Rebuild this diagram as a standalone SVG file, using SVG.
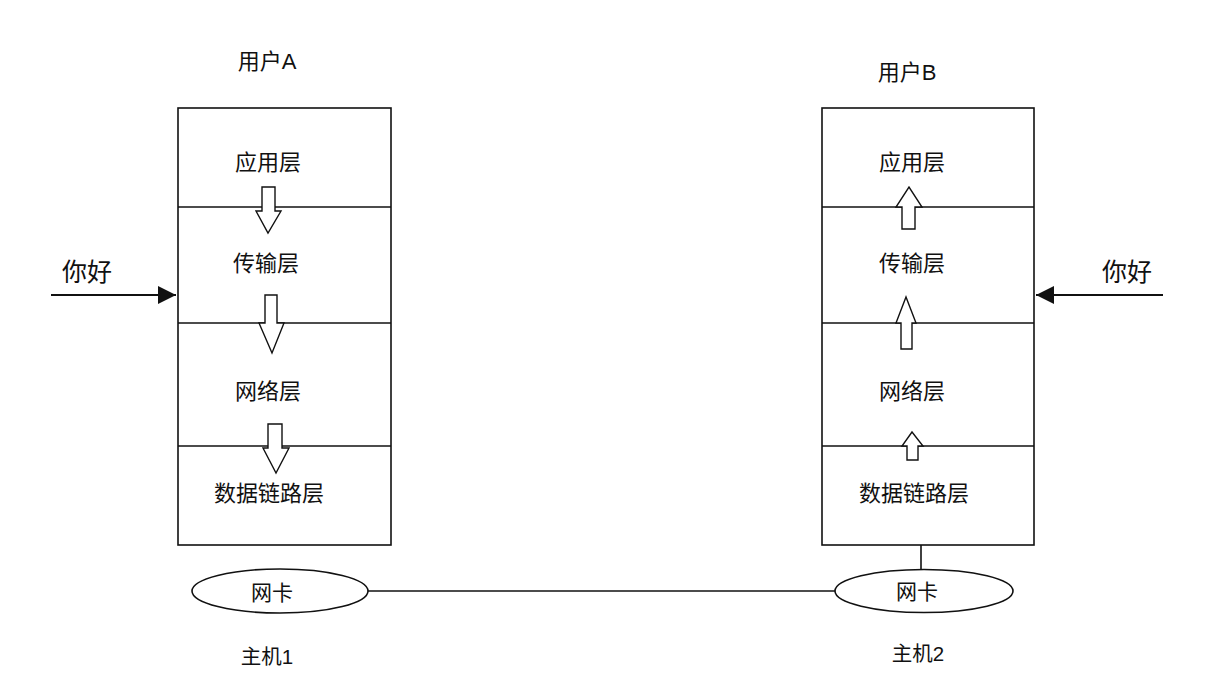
<svg xmlns="http://www.w3.org/2000/svg" width="1217" height="693" viewBox="0 0 1217 693">
<defs>
<style>
.t{font-family:"Liberation Sans","Noto Sans CJK SC",sans-serif;fill:#111;text-anchor:middle;dominant-baseline:central}
.box{fill:#fff;stroke:#111;stroke-width:1.6}
.ln{stroke:#111;stroke-width:1.6;fill:none}
.in{stroke:#111;stroke-width:2;fill:none}
.ar{fill:#fff;stroke:#111;stroke-width:1.4;stroke-linejoin:miter}
</style>
<marker id="ah" viewBox="0 0 10 10" refX="10" refY="5" markerWidth="22" markerHeight="18" markerUnits="userSpaceOnUse" orient="auto">
<path d="M0,0 L10,5 L0,10 z" fill="#111"/>
</marker>
</defs>
<rect width="1217" height="693" fill="#fff"/>

<g id="hostA">
<text class="t" x="267" y="61" font-size="22">用户A</text>
<rect class="box" x="178" y="108" width="213" height="437"/>
<line class="ln" x1="178" y1="207" x2="391" y2="207"/>
<line class="ln" x1="178" y1="323" x2="391" y2="323"/>
<line class="ln" x1="178" y1="446" x2="391" y2="446"/>
<text class="t" x="268" y="162" font-size="22">应用层</text>
<text class="t" x="266" y="263" font-size="22">传输层</text>
<text class="t" x="268" y="391" font-size="22">网络层</text>
<text class="t" x="269" y="493" font-size="22">数据链路层</text>
<path class="ar" d="M262,187 H275 V211 H281 L268,233 L256,211 H262 Z"/>
<path class="ar" d="M265,295 H277 V323 H284 L272,353 L259,323 H265 Z"/>
<path class="ar" d="M268,424 H282 V448 H289 L276,473 L263,448 H268 Z"/>
</g>

<g id="hostB">
<text class="t" x="907" y="72" font-size="22">用户B</text>
<rect class="box" x="822" y="108" width="212" height="437"/>
<line class="ln" x1="822" y1="207" x2="1034" y2="207"/>
<line class="ln" x1="822" y1="323" x2="1034" y2="323"/>
<line class="ln" x1="822" y1="446" x2="1034" y2="446"/>
<text class="t" x="912" y="162" font-size="22">应用层</text>
<text class="t" x="912" y="263" font-size="22">传输层</text>
<text class="t" x="912" y="391" font-size="22">网络层</text>
<text class="t" x="914" y="493" font-size="22">数据链路层</text>
<path class="ar" d="M902,229 H915 V207 H922 L909,187 L896,207 H902 Z"/>
<path class="ar" d="M901,349 H912 V323 H916 L906,297 L896,323 H901 Z"/>
<path class="ar" d="M907,460 H918 V446 H923 L912,432 L902,446 H907 Z"/>
</g>

<g id="nicA">
<ellipse class="box" cx="280" cy="591" rx="88" ry="22"/>
<text class="t" x="272" y="592" font-size="21">网卡</text>
</g>
<g id="nicB">
<ellipse class="box" cx="924" cy="591" rx="89" ry="21.5"/>
<text class="t" x="917" y="591" font-size="21">网卡</text>
</g>

<g id="labels">
<text class="t" x="87" y="272" font-size="25">你好</text>
<text class="t" x="1127" y="272" font-size="25">你好</text>
<text class="t" x="267" y="656" font-size="20.5">主机1</text>
<text class="t" x="918" y="653" font-size="20.5">主机2</text>
</g>

<g id="connectors">
<line class="in" x1="51" y1="295" x2="176" y2="295" marker-end="url(#ah)"/>
<line class="in" x1="1163" y1="295" x2="1036" y2="295" marker-end="url(#ah)"/>
<line class="ln" x1="368" y1="591" x2="835" y2="591"/>
<line class="ln" x1="921" y1="545" x2="921" y2="569.5"/>
</g>
</svg>
